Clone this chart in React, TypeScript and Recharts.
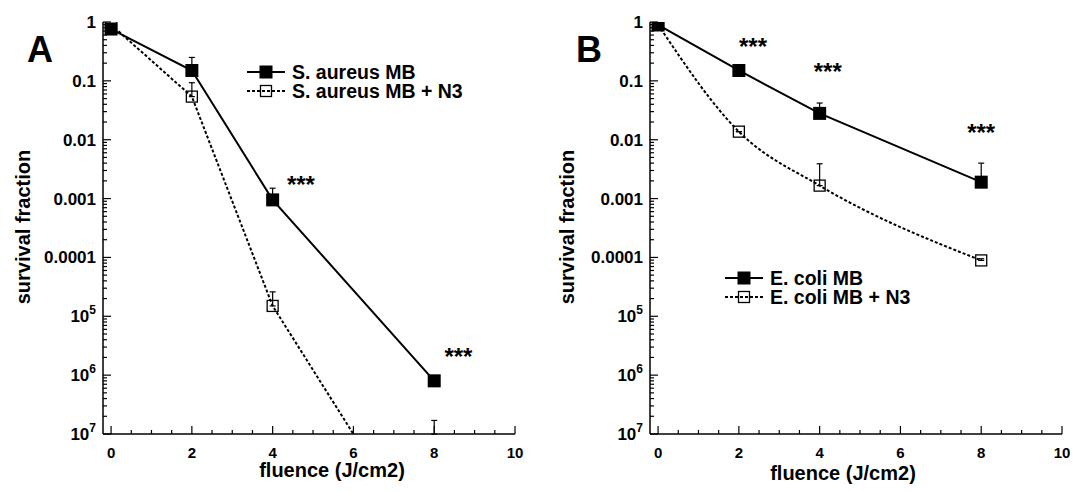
import { LineChart, Line, XAxis, YAxis, ErrorBar, ReferenceDot, Legend } from 'recharts'

// fluence doses (J/cm2)
const fluence = [0, 2, 4, 8]

// panel A: S. aureus (value, top of error bar)
const aureusMB = [0.76, 0.15, 0.00095, 8e-7]
const aureusMBTop = [0.76, 0.25, 0.0015, 8e-7]
const aureusN3 = [0.9, 0.054, 1.5e-5, 6.6e-10]
const aureusN3Top = [0.9, 0.093, 2.6e-5, 1.7e-7]

// panel B: E. coli
const coliMB = [0.89, 0.15, 0.028, 0.0019]
const coliMBTop = [0.89, 0.15, 0.042, 0.004]
const coliN3 = [0.9, 0.0137, 0.00166, 8.9e-5]
const coliN3Top = [0.9, 0.0137, 0.0039, 9.5e-5]

// significance markers (x, y)
const starsA = [[4.7, 0.0021], [8.6, 2.5e-6]]
const starsB = [[2.35, 0.46], [4.2, 0.17], [8.0, 0.016]]

const legendA = ['S. aureus MB', 'S. aureus MB + N3']
const legendB = ['E. coli MB', 'E. coli MB + N3']

const Y_MIN = 1e-7
const xTicks = [0, 0.5, 1, 1.5, 2, 2.5, 3, 3.5, 4, 4.5, 5, 5.5, 6, 6.5, 7, 7.5, 8, 8.5, 9, 9.5, 10]
const yMajor = [1e-7, 1e-6, 1e-5, 1e-4, 1e-3, 1e-2, 1e-1, 1]
const yTicks: number[] = []
yMajor.forEach((d, i) => {
  yTicks.push(d)
  if (i < yMajor.length - 1) [2, 3, 4, 5, 6, 7, 8, 9].forEach(m => yTicks.push(+(d * m).toPrecision(2)))
})
const yLabels: { [k: string]: string } = {
  '1': '1', '0.1': '0.1', '0.01': '0.01', '0.001': '0.001', '0.0001': '0.0001',
}
const expLabels: { [k: string]: string } = { '0.00001': '5', '0.000001': '6', '1e-7': '7' }

const FONT = '"Liberation Sans", Arial, Helvetica, sans-serif'

// error bars go upward only; the lower end stops at the axis floor
const errPair = (v: number, top: number) => [v - Math.max(v, Y_MIN), top - v]

function buildRows(mb: number[], mbTop: number[], n3: number[], n3Top: number[]) {
  return fluence.map((x, i) => ({
    x,
    mb: mb[i],
    mbErr: errPair(mb[i], mbTop[i]),
    n3: n3[i],
    n3Err: errPair(n3[i], n3Top[i]),
  }))
}

const dataA = buildRows(aureusMB, aureusMBTop, aureusN3, aureusN3Top)
const dataB = buildRows(coliMB, coliMBTop, coliN3, coliN3Top)

const isMajorX = (v: number) => Math.abs(v % 2) < 1e-9
const isMajorY = (v: number) => yMajor.some(m => Math.abs(v / m - 1) < 1e-6)

function BottomTick(props: any) {
  const { x, y, payload } = props
  const v = payload.value
  const major = isMajorX(v)
  return (
    <g>
      <line x1={x} x2={x} y1={y} y2={y - (major ? 8 : 4)} stroke="#000" strokeWidth={1.2} />
      {major && (
        <text x={x} y={y + 24} textAnchor="middle" fontFamily={FONT} fontWeight="bold" fontSize={15} fill="#000">
          {v}
        </text>
      )}
    </g>
  )
}

function TopTick(props: any) {
  const { x, y, payload } = props
  const major = isMajorX(payload.value)
  return <line x1={x} x2={x} y1={y} y2={y + (major ? 8 : 4)} stroke="#000" strokeWidth={1.2} />
}

function LeftTick(props: any) {
  const { x, y, payload } = props
  const v = payload.value
  const major = isMajorY(v)
  const key = String(v)
  return (
    <g>
      <line x1={x} x2={x + (major ? 8 : 4)} y1={y} y2={y} stroke="#000" strokeWidth={1.2} />
      {major && yLabels[key] && (
        <text x={x - 7} y={y + 6} textAnchor="end" fontFamily={FONT} fontWeight="bold" fontSize={17} fill="#000">
          {yLabels[key]}
        </text>
      )}
      {major && expLabels[key] && (
        <text x={x - 7} y={y + 6} textAnchor="end" fontFamily={FONT} fontWeight="bold" fontSize={17} fill="#000">
          10
          <tspan dy={-8} fontSize={12}>{expLabels[key]}</tspan>
        </text>
      )}
    </g>
  )
}

function RightTick(props: any) {
  const { x, y, payload } = props
  const major = isMajorY(payload.value)
  return <line x1={x} x2={x - (major ? 8 : 4)} y1={y} y2={y} stroke="#000" strokeWidth={1.2} />
}

function FilledSquare(props: any) {
  const { cx, cy } = props
  if (cx == null || cy == null) return <g />
  return <rect x={cx - 6.5} y={cy - 6.5} width={13} height={13} fill="#000" />
}

function OpenSquare(props: any) {
  const { cx, cy } = props
  if (cx == null || cy == null || cy > 440) return <g />
  return <rect x={cx - 5.5} y={cy - 5.5} width={11} height={11} fill="none" stroke="#000" strokeWidth={1.3} />
}

function Stars(props: any) {
  const { cx, cy } = props
  return (
    <text x={cx} y={cy + 13} textAnchor="middle" fontFamily={FONT} fontWeight="bold" fontSize={24} fill="#000">
      ***
    </text>
  )
}

function makeLegend(names: string[]) {
  return () => (
    <svg width={240} height={40} style={{ display: 'block' }}>
      {names.map((n, i) => {
        const cy = 10 + i * 19
        const dashed = i === 1
        return (
          <g key={n}>
            <line x1={0} x2={38} y1={cy} y2={cy} stroke="#000" strokeWidth={2} strokeDasharray={dashed ? '3 2' : undefined} />
            {dashed ? (
              <rect x={13.5} y={cy - 5.5} width={11} height={11} fill="none" stroke="#000" strokeWidth={1.3} />
            ) : (
              <rect x={12.5} y={cy - 6.5} width={13} height={13} fill="#000" />
            )}
            <text x={45} y={cy + 7} fontFamily={FONT} fontWeight="bold" fontSize={19.5} fill="#000">
              {n}
            </text>
          </g>
        )
      })}
    </svg>
  )
}

interface PanelProps {
  data: any[]
  stars: number[][]
  legend: string[]
  letter: string
  width: number
  yAxisWidth: number
  marginRight: number
  legendPos: { left: number; top: number }
  letterX: number
  xLabelShift: number
  xLabelDy: number
  yLabelX: number
  curve: 'linear' | 'monotone'
}

function Panel(p: PanelProps) {
  return (
    <LineChart width={p.width} height={491} data={p.data} margin={{ top: 22, right: p.marginRight, bottom: 0, left: 0 }}>
      <XAxis
        xAxisId="b"
        dataKey="x"
        type="number"
        domain={[-0.2, 10]}
        allowDataOverflow
        ticks={xTicks}
        interval={0}
        tickSize={0}
        tickMargin={0}
        tickLine={false}
        tick={<BottomTick />}
        axisLine={{ stroke: '#000', strokeWidth: 1.5 }}
        height={57}
        label={{
          content: (lp: any) => {
            const vb = lp.viewBox
            return (
              <text
                x={vb.x + vb.width / 2 + p.xLabelShift}
                y={vb.y + p.xLabelDy}
                textAnchor="middle"
                fontFamily={FONT}
                fontWeight="bold"
                fontSize={20}
                fill="#000"
              >
                fluence (J/cm2)
              </text>
            )
          },
        }}
      />
      <XAxis
        xAxisId="t"
        orientation="top"
        type="number"
        domain={[-0.2, 10]}
        allowDataOverflow
        ticks={xTicks}
        interval={0}
        tickSize={0}
        tickMargin={0}
        tickLine={false}
        tick={<TopTick />}
        axisLine={{ stroke: '#000', strokeWidth: 1.5 }}
        height={0}
      />
      <YAxis
        yAxisId="l"
        scale="log"
        type="number"
        domain={[Y_MIN, 1]}
        allowDataOverflow
        ticks={yTicks}
        interval={0}
        tickSize={0}
        tickMargin={0}
        tickLine={false}
        tick={<LeftTick />}
        axisLine={{ stroke: '#000', strokeWidth: 1.5 }}
        width={p.yAxisWidth}
        label={{
          content: () => {
            const cy = 227
            return (
              <text
                x={p.yLabelX}
                y={cy}
                transform={`rotate(-90, ${p.yLabelX}, ${cy})`}
                textAnchor="middle"
                fontFamily={FONT}
                fontWeight="bold"
                fontSize={20}
                fill="#000"
              >
                survival fraction
              </text>
            )
          },
        }}
      />
      <YAxis
        yAxisId="r"
        orientation="right"
        scale="log"
        type="number"
        domain={[Y_MIN, 1]}
        allowDataOverflow
        ticks={yTicks}
        interval={0}
        tickSize={0}
        tickMargin={0}
        tickLine={false}
        tick={<RightTick />}
        axisLine={{ stroke: '#000', strokeWidth: 1.5 }}
        width={0}
      />
      <Line
        xAxisId="b"
        yAxisId="l"
        dataKey="n3"
        name={p.legend[1]}
        type={p.curve}
        stroke="#000"
        strokeWidth={2}
        strokeDasharray="3 2"
        dot={<OpenSquare />}
        activeDot={false}
        isAnimationActive={false}
      >
        <ErrorBar dataKey="n3Err" direction="y" width={3} stroke="#000" strokeWidth={1.2} />
      </Line>
      <Line
        xAxisId="b"
        yAxisId="l"
        dataKey="mb"
        name={p.legend[0]}
        type="linear"
        stroke="#000"
        strokeWidth={2}
        dot={<FilledSquare />}
        activeDot={false}
        isAnimationActive={false}
      >
        <ErrorBar dataKey="mbErr" direction="y" width={3} stroke="#000" strokeWidth={1.2} />
      </Line>
      {p.stars.map(([sx, sy], i) => (
        <ReferenceDot key={i} xAxisId="b" yAxisId="l" x={sx} y={sy} r={0} shape={<Stars />} />
      ))}
      <Legend
        layout="vertical"
        align="center"
        verticalAlign="middle"
        content={makeLegend(p.legend)}
        wrapperStyle={{ left: p.legendPos.left, top: p.legendPos.top, width: 240 }}
      />
      <text x={p.letterX} y={62} textAnchor="middle" fontFamily={FONT} fontWeight="bold" fontSize={36} fill="#000">
        {p.letter}
      </text>
    </LineChart>
  )
}

export default function App() {
  return (
    <div style={{ position: 'absolute', left: 0, top: 0, width: 1075, height: 491, background: '#fff', display: 'flex' }}>
      <Panel
        data={dataA}
        stars={starsA}
        legend={legendA}
        letter="A"
        width={537}
        yAxisWidth={103}
        marginRight={22}
        legendPos={{ left: 247, top: 62 }}
        letterX={40}
        xLabelShift={23}
        xLabelDy={43}
        yLabelX={30}
        curve="linear"
      />
      <Panel
        data={dataB}
        stars={starsB}
        legend={legendB}
        letter="B"
        width={538}
        yAxisWidth={113}
        marginRight={13}
        legendPos={{ left: 188, top: 268 }}
        letterX={52}
        xLabelShift={-13}
        xLabelDy={46}
        yLabelX={37}
        curve="monotone"
      />
    </div>
  )
}
